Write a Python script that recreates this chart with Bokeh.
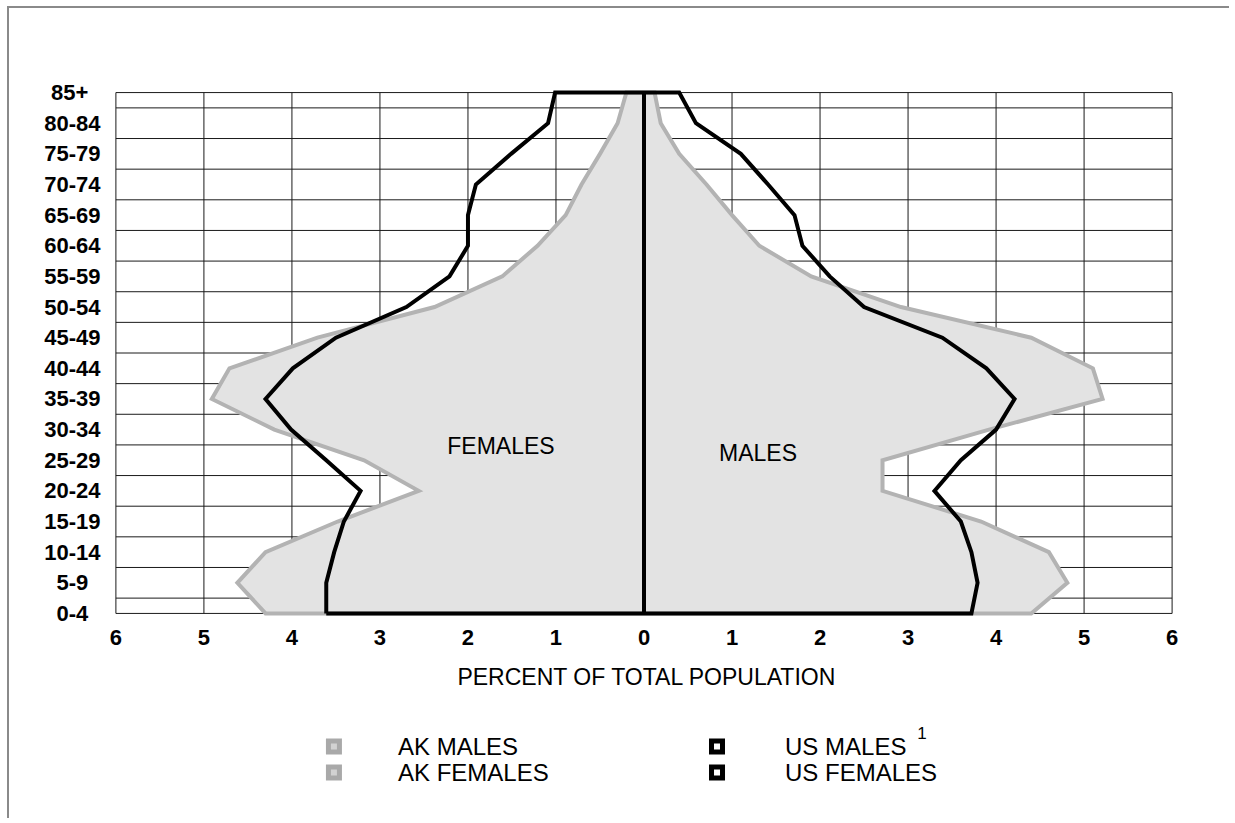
from bokeh.plotting import figure
from bokeh.layouts import column
from bokeh.models import Range1d, FixedTicker
from bokeh.core.properties import value
from bokeh.embed import file_html
from bokeh.resources import INLINE

# ---- data (percent of total population) ----
age_groups = ["0-4", "5-9", "10-14", "15-19", "20-24", "25-29", "30-34", "35-39",
              "40-44", "45-49", "50-54", "55-59", "60-64", "65-69", "70-74",
              "75-79", "80-84", "85+"]
ak_males = [4.40, 4.81, 4.60, 3.83, 2.71, 2.71, 3.92, 5.21, 5.10, 4.40,
            2.92, 1.90, 1.31, 1.00, 0.71, 0.40, 0.19, 0.12]
ak_females = [4.30, 4.62, 4.30, 3.48, 2.56, 3.18, 4.20, 4.91, 4.71, 3.71,
              2.38, 1.61, 1.21, 0.89, 0.71, 0.50, 0.30, 0.20]
us_males = [3.72, 3.79, 3.72, 3.60, 3.30, 3.60, 4.00, 4.21, 3.89, 3.39,
            2.50, 2.11, 1.80, 1.71, 1.41, 1.10, 0.59, 0.40]
us_females = [3.61, 3.61, 3.52, 3.41, 3.22, 3.61, 4.01, 4.30, 3.99, 3.50,
              2.70, 2.21, 2.00, 2.00, 1.91, 1.51, 1.09, 1.01]
x_ticks = [-6, -5, -4, -3, -2, -1, 0, 1, 2, 3, 4, 5, 6]
x_title = "PERCENT OF TOTAL POPULATION"
legend_labels = ["AK MALES", "AK FEMALES", "US MALES", "US FEMALES"]
legend_note = "1"

FONT = "Liberation Sans"
NB = "\u00a0"
n = len(age_groups)
ys = list(range(n))
ytop = n - 1


def centred(label):
    # pad short labels so the right-aligned axis labels look centred
    pad = {3: 2, 4: 1}.get(len(label), 0)
    return label + NB * pad


W = 1220
p = figure(width=W, height=700,
           x_range=Range1d(-6.05, 6.05), y_range=Range1d(-0.1, ytop + 0.1),
           output_backend="svg", toolbar_location=None,
           min_border_left=102, min_border_right=53,
           min_border_top=81, min_border_bottom=92)
p.title.visible = False
p.outline_line_color = None
p.xgrid.visible = False
p.ygrid.visible = False
p.background_fill_color = "white"
p.border_fill_color = "white"

# ---- table-like grid drawn as segments ----
hy = [0] + [i + 0.5 for i in range(n - 1)] + [ytop]
p.segment(x0=[x_ticks[0]] * len(hy), x1=[x_ticks[-1]] * len(hy), y0=hy, y1=hy,
          line_color="#1a1a1a", line_width=1)
p.segment(x0=x_ticks, x1=x_ticks, y0=[0] * len(x_ticks), y1=[ytop] * len(x_ticks),
          line_color="#1a1a1a", line_width=1)

# ---- AK polygon (filled) ----
ak_x = [-v for v in ak_females] + [v for v in reversed(ak_males)]
ak_y = ys + list(reversed(ys))
p.patch(ak_x, ak_y, fill_color="#e3e3e3", line_color="#b3b3b3", line_width=4,
        line_join="miter")

# ---- US outline ----
us_x = [-v for v in us_females] + [v for v in reversed(us_males)] + [-us_females[0]]
us_y = ys + list(reversed(ys)) + [0]
p.line(us_x, us_y, line_color="black", line_width=4, line_join="miter")

# centre line
p.line([0, 0], [0, ytop], line_color="black", line_width=4)

# ---- in-plot labels ----
p.text(x=[-1.625], y=[5.45], text=["FEMALES"], text_font=value(FONT),
       text_font_size="23px", text_align="center", text_baseline="middle",
       text_color="black")
p.text(x=[1.295], y=[5.25], text=["MALES"], text_font=value(FONT),
       text_font_size="23px", text_align="center", text_baseline="middle",
       text_color="black")

# ---- axes ----
xa = p.xaxis[0]
xa.ticker = FixedTicker(ticks=x_ticks)
xa.major_label_overrides = {t: str(abs(t)) for t in x_ticks}
xa.axis_line_color = None
xa.major_tick_line_color = None
xa.minor_tick_line_color = None
xa.major_tick_out = 0
xa.major_tick_in = 0
xa.major_label_text_font = FONT
xa.major_label_text_font_style = "bold"
xa.major_label_text_font_size = "22px"
xa.major_label_text_color = "black"
xa.major_label_standoff = 13
xa.axis_label = NB + x_title
xa.axis_label_text_font = FONT
xa.axis_label_text_font_style = "normal"
xa.axis_label_text_font_size = "23px"
xa.axis_label_text_color = "black"
xa.axis_label_standoff = 16

ya = p.yaxis[0]
ya.ticker = FixedTicker(ticks=ys)
ya.major_label_overrides = {i: centred(g) for i, g in enumerate(age_groups)}
ya.axis_line_color = None
ya.major_tick_line_color = None
ya.minor_tick_line_color = None
ya.major_tick_out = 0
ya.major_tick_in = 0
ya.major_label_text_font = FONT
ya.major_label_text_font_style = "bold"
ya.major_label_text_font_size = "22px"
ya.major_label_text_color = "black"
ya.major_label_standoff = 11

# ---- legend strip (second figure; its frame is aligned with the main frame,
#      coordinates are page pixels) ----
LH = 110
lg = figure(width=W, height=LH, x_range=Range1d(110.6, 1175.4), y_range=Range1d(LH, 0),
            output_backend="svg", toolbar_location=None,
            x_axis_type=None, y_axis_type=None,
            min_border=0, min_border_left=102, min_border_right=53,
            min_border_top=0, min_border_bottom=0)
lg.title.visible = False
lg.outline_line_color = None
lg.xgrid.visible = False
lg.ygrid.visible = False

col_x = [333, 716]       # marker centres of the two legend columns
col_tx = [397, 784]      # text starts of the two legend columns
row_y = [38, 64]         # row centres
mk_x = [col_x[0], col_x[0], col_x[1], col_x[1]]
tx_x = [col_tx[0], col_tx[0], col_tx[1], col_tx[1]]
mk_y = [row_y[0], row_y[1], row_y[0], row_y[1]]
mk_fill = ["#d2d2d2", "#d2d2d2", "white", "white"]
mk_line = ["#a9a9a9", "#a9a9a9", "black", "black"]
lg.scatter(x=mk_x, y=mk_y, marker="square", size=11, fill_color=mk_fill,
           line_color=mk_line, line_width=5, line_join="miter")
lg.text(x=tx_x, y=mk_y, text=legend_labels,
        text_font=value(FONT), text_font_size="24px", text_align="left",
        text_baseline="middle", text_color="black")
lg.text(x=[921], y=[24], text=[legend_note], text_font=value(FONT),
        text_font_size="17px", text_align="center", text_baseline="middle",
        text_color="black")

layout = column(p, lg, spacing=0,
                styles={"margin-left": "7px", "margin-top": "6px",
                        "border-top": "2px solid #8a8a8a",
                        "border-left": "2px solid #8a8a8a"})

open("out.html", "w").write(file_html(layout, INLINE))
